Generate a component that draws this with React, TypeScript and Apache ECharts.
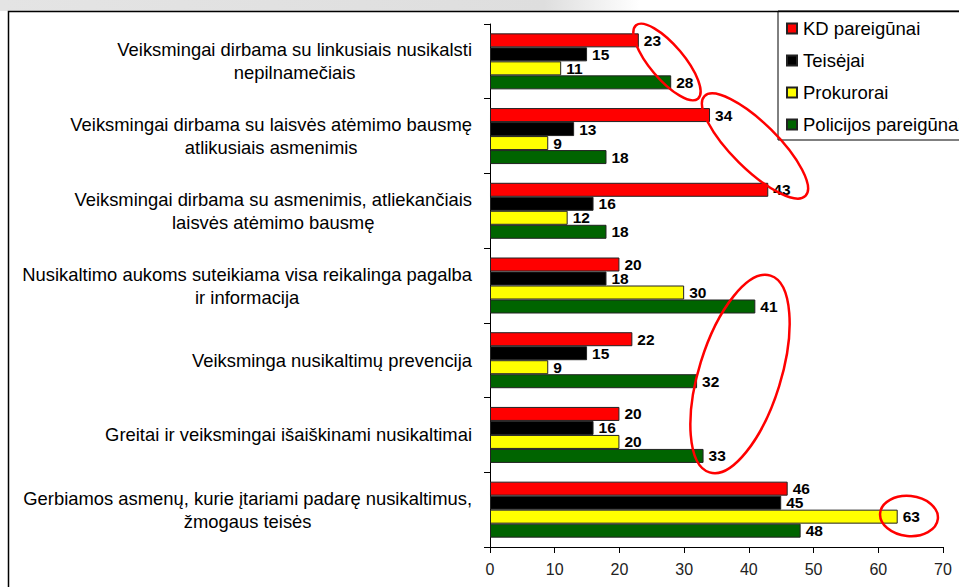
import React, { useEffect, useRef } from "react";
import * as echarts from "echarts";

const categories: string[] = [
  "Veiksmingai dirbama su linkusiais nusikalsti\nnepilnamečiais",
  "Veiksmingai dirbama su laisvės atėmimo bausmę\natlikusiais asmenimis",
  "Veiksmingai dirbama su asmenimis, atliekančiais\nlaisvės atėmimo bausmę",
  "Nusikaltimo aukoms suteikiama visa reikalinga pagalba\nir informacija",
  "Veiksminga nusikaltimų prevencija",
  "Greitai ir veiksmingai išaiškinami nusikaltimai",
  "Gerbiamos asmenų, kurie įtariami padarę nusikaltimus,\nžmogaus teisės",
];

const seriesNames: string[] = ["KD pareigūnai", "Teisėjai", "Prokurorai", "Policijos pareigūnai"];
const kdValues: number[] = [23, 34, 43, 20, 22, 20, 46];
const judgeValues: number[] = [15, 13, 16, 18, 15, 16, 45];
const prosecutorValues: number[] = [11, 9, 12, 30, 9, 20, 63];
const policeValues: number[] = [28, 18, 18, 41, 32, 33, 48];
const seriesColors: string[] = ["#ff0000", "#000000", "#ffff00", "#006400"];
const xTicks: number[] = [0, 10, 20, 30, 40, 50, 60, 70];

const FONT = '"Liberation Sans", Arial, sans-serif';

export default function App() {
  const ref = useRef<HTMLDivElement>(null);
  useEffect(() => {
    if (!ref.current) return;
    const chart = echarts.init(ref.current, undefined, { renderer: "svg" });
    const allValues = [kdValues, judgeValues, prosecutorValues, policeValues];
    const option: any = {
      animation: false,
      backgroundColor: "#ffffff",
      textStyle: { fontFamily: FONT },
      grid: { left: 490, right: 16, top: 24, bottom: 40, containLabel: false },
      legend: {
        orient: "vertical",
        left: 778,
        top: 11,
        padding: [8, 12, 6, 8],
        itemWidth: 10,
        itemHeight: 10,
        itemGap: 13,
        borderColor: "#000",
        borderWidth: 1,
        backgroundColor: "#fff",
        textStyle: { fontFamily: FONT, fontSize: 18.5, color: "#000", padding: [0, 0, 0, 1] },
        data: seriesNames.map((n) => ({ name: n, icon: "rect" })),
      },
      xAxis: {
        type: "value",
        min: xTicks[0],
        max: xTicks[xTicks.length - 1],
        interval: 10,
        axisLine: { show: true, lineStyle: { color: "#000", width: 1 } },
        axisTick: { show: true, length: 6, lineStyle: { color: "#000" } },
        axisLabel: { fontFamily: FONT, fontSize: 16, color: "#222", margin: 14 },
        splitLine: { show: false },
      },
      yAxis: {
        type: "category",
        inverse: true,
        data: categories,
        axisLine: { show: true, lineStyle: { color: "#000", width: 1 } },
        axisTick: { show: true, length: 6, lineStyle: { color: "#000" } },
        axisLabel: {
          margin: 18,
          align: "right",
          formatter: (v: string) => v.split("\n").map((l) => `{c|${l}}`).join("\n"),
          rich: {
            c: { align: "center", fontFamily: FONT, fontSize: 18.4, color: "#000", lineHeight: 23 },
          },
        },
      },
      series: seriesNames.map((name, i) => ({
        name,
        type: "bar",
        data: allValues[i],
        barWidth: 14,
        barGap: "0%",
        itemStyle: { color: seriesColors[i], borderColor: "#222", borderWidth: 1 },
        label: {
          show: true,
          position: "right",
          distance: 5,
          fontFamily: FONT,
          fontSize: 15.5,
          lineHeight: 14,
          fontWeight: "bold",
          color: "#000",
        },
      })),
      graphic: [
        {
          type: "rect",
          z: -10,
          silent: true,
          shape: { x: 0, y: 0, width: 640, height: 11 },
          style: {
            fill: new echarts.graphic.LinearGradient(0, 0, 1, 0, [
              { offset: 0, color: "#e4e4e4" },
              { offset: 0.85, color: "#dedede" },
              { offset: 1, color: "#ffffff" },
            ]),
          },
        },
        {
          type: "rect",
          z: 50,
          silent: true,
          shape: { x: 8.5, y: 11.5, width: 960, height: 600 },
          style: { fill: "none", stroke: "#000", lineWidth: 1.5 },
        },
        {
          type: "ellipse",
          z: 60,
          silent: true,
          x: 667,
          y: 62,
          rotation: -0.87,
          shape: { cx: 0, cy: 0, rx: 48, ry: 17 },
          style: { fill: "none", stroke: "#ff0000", lineWidth: 2.5 },
        },
        {
          type: "ellipse",
          z: 60,
          silent: true,
          x: 755,
          y: 146,
          rotation: -0.78,
          shape: { cx: 0, cy: 0, rx: 71, ry: 23 },
          style: { fill: "none", stroke: "#ff0000", lineWidth: 2.5 },
        },
        {
          type: "ellipse",
          z: 60,
          silent: true,
          x: 740,
          y: 374,
          rotation: -0.3,
          shape: { cx: 0, cy: 0, rx: 41, ry: 103 },
          style: { fill: "none", stroke: "#ff0000", lineWidth: 2.5 },
        },
        {
          type: "ellipse",
          z: 60,
          silent: true,
          x: 909,
          y: 516,
          rotation: -0.1,
          shape: { cx: 0, cy: 0, rx: 29, ry: 20 },
          style: { fill: "none", stroke: "#ff0000", lineWidth: 2.5 },
        },
      ],
    };
    chart.setOption(option);
    return () => chart.dispose();
  }, []);
  return (
    <div
      ref={ref}
      style={{ position: "absolute", left: 0, top: 0, width: 959, height: 587 }}
    />
  );
}
